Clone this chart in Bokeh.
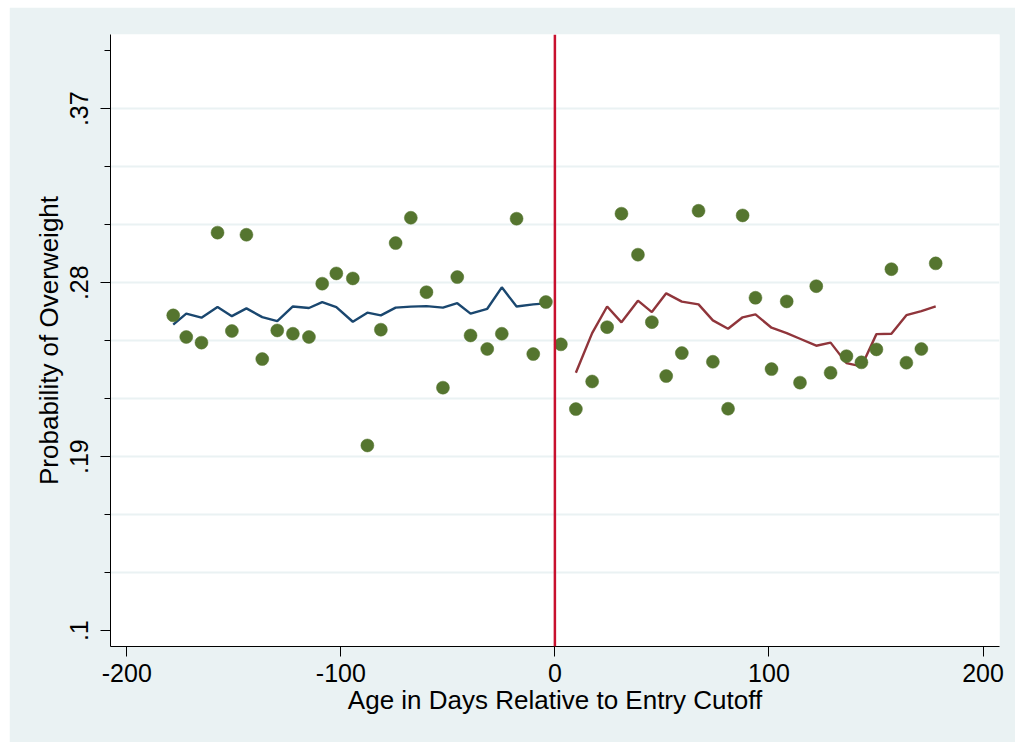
from bokeh.plotting import figure
from bokeh.models import Range1d, FixedTicker, Span
from bokeh.embed import file_html
from bokeh.resources import INLINE

# ---- data ----
left_x = [-178.3, -172.2, -165.1, -157.6, -150.9, -144.1, -136.7, -129.7, -122.4,
          -114.9, -108.7, -102.1, -94.4, -87.6, -81.3, -74.4, -67.3, -60.0, -52.3,
          -45.6, -39.4, -31.6, -24.8, -17.9, -10.1, -4.2]
left_y = [.2631, .2519, .2490, .3059, .2550, .3048, .2405, .2553, .2536, .2519,
          .2795, .2848, .2822, .1958, .2557, .3005, .3136, .2751, .2257, .2829,
          .2527, .2457, .2536, .3131, .2431, .2700]
left_fit = [.2583, .2640, .2619, .2674, .2627, .2667, .2622, .2601, .2677, .2669,
            .2700, .2674, .2598, .2645, .2631, .2671, .2676, .2679, .2671, .2694,
            .2640, .2665, .2776, .2677, .2688, .2693]

right_x = [2.8, 9.8, 17.4, 24.4, 31.1, 38.8, 45.3, 52.0, 59.3, 67.1, 73.8, 80.9,
           87.7, 93.7, 101.2, 108.3, 114.5, 122.1, 128.8, 136.2, 143.2, 150.2,
           157.2, 164.2, 171.2, 177.9]
right_y = [.2481, .2146, .2289, .2570, .3157, .2945, .2596, .2317, .2436, .3172,
           .2391, .2148, .3148, .2722, .2353, .2703, .2283, .2782, .2334, .2420,
           .2388, .2455, .2870, .2386, .2457, .2900]
# fitted values start at the second bin on the right
right_fit = [.2334, .2539, .2677, .2595, .2707, .2648, .2745, .2702, .2688, .2605,
             .2562, .2621, .2636, .2567, .2539, .2510, .2474, .2490, .2384, .2367,
             .2534, .2536, .2632, .2653, .2677]

cutoff = 0
y_major = [.1, .19, .28, .37]
y_minor = [.13, .16, .22, .25, .31, .34, .40]
y_grid = [.13, .16, .19, .22, .25, .28, .31, .34, .37]
x_major = [-200, -100, 0, 100, 200]

FONT = "Liberation Sans"
BG = "#EAF2F3"

p = figure(width=1006, height=735, output_backend="svg", toolbar_location=None,
           x_range=Range1d(-207.6, 207.7), y_range=Range1d(0.0918, 0.4084),
           min_border_left=101, min_border_right=16, min_border_top=27,
           min_border_bottom=96)
p.margin = (7, 0, 0, 9)
p.background_fill_color = "white"
p.border_fill_color = BG
p.outline_line_color = None

# grid
p.xgrid.visible = False
p.ygrid.ticker = FixedTicker(ticks=y_grid)
p.ygrid.grid_line_color = BG
p.ygrid.grid_line_width = 2

# axes
for ax in (p.xaxis[0], p.yaxis[0]):
    ax.axis_line_color = "black"
    ax.axis_line_width = 1
    ax.major_tick_line_color = "black"
    ax.minor_tick_line_color = "black"
    ax.major_tick_out = 10
    ax.major_tick_in = 0
    ax.minor_tick_out = 6
    ax.minor_tick_in = 0
    ax.major_label_text_font = FONT
    ax.major_label_text_font_size = "25px"
    ax.major_label_text_color = "black"
    ax.axis_label_text_font = FONT
    ax.axis_label_text_font_size = "26px"
    ax.axis_label_text_font_style = "normal"
    ax.axis_label_text_color = "black"

p.xaxis.ticker = FixedTicker(ticks=x_major)
p.xaxis.major_label_overrides = {v: str(v) for v in x_major}
p.xaxis.major_label_standoff = 7
p.xaxis.axis_label = "Age in Days Relative to Entry Cutoff"
p.xaxis.axis_label_standoff = 0

p.yaxis.ticker = FixedTicker(ticks=y_major, minor_ticks=y_minor)
p.yaxis.major_label_overrides = {v: ("%.2f" % v).lstrip("0").rstrip("0") for v in y_major}
p.yaxis.major_label_orientation = "vertical"
p.yaxis.major_label_standoff = 12
p.yaxis.axis_label = "Probability of Overweight"
p.yaxis.axis_label_standoff = 4

# fitted lines
p.line(left_x, left_fit, line_color="#1A476F", line_width=2.4)
p.line(right_x[1:], right_fit, line_color="#90353B", line_width=2.4)

# binned means
p.scatter(left_x + right_x, left_y + right_y, size=13, fill_color="#55752F",
          line_color="#55752F", line_width=0.5)

# cutoff line
p.add_layout(Span(location=cutoff, dimension="height", line_color="#C8102E",
                  line_width=2.5))

open("out.html", "w").write(file_html(p, INLINE))
